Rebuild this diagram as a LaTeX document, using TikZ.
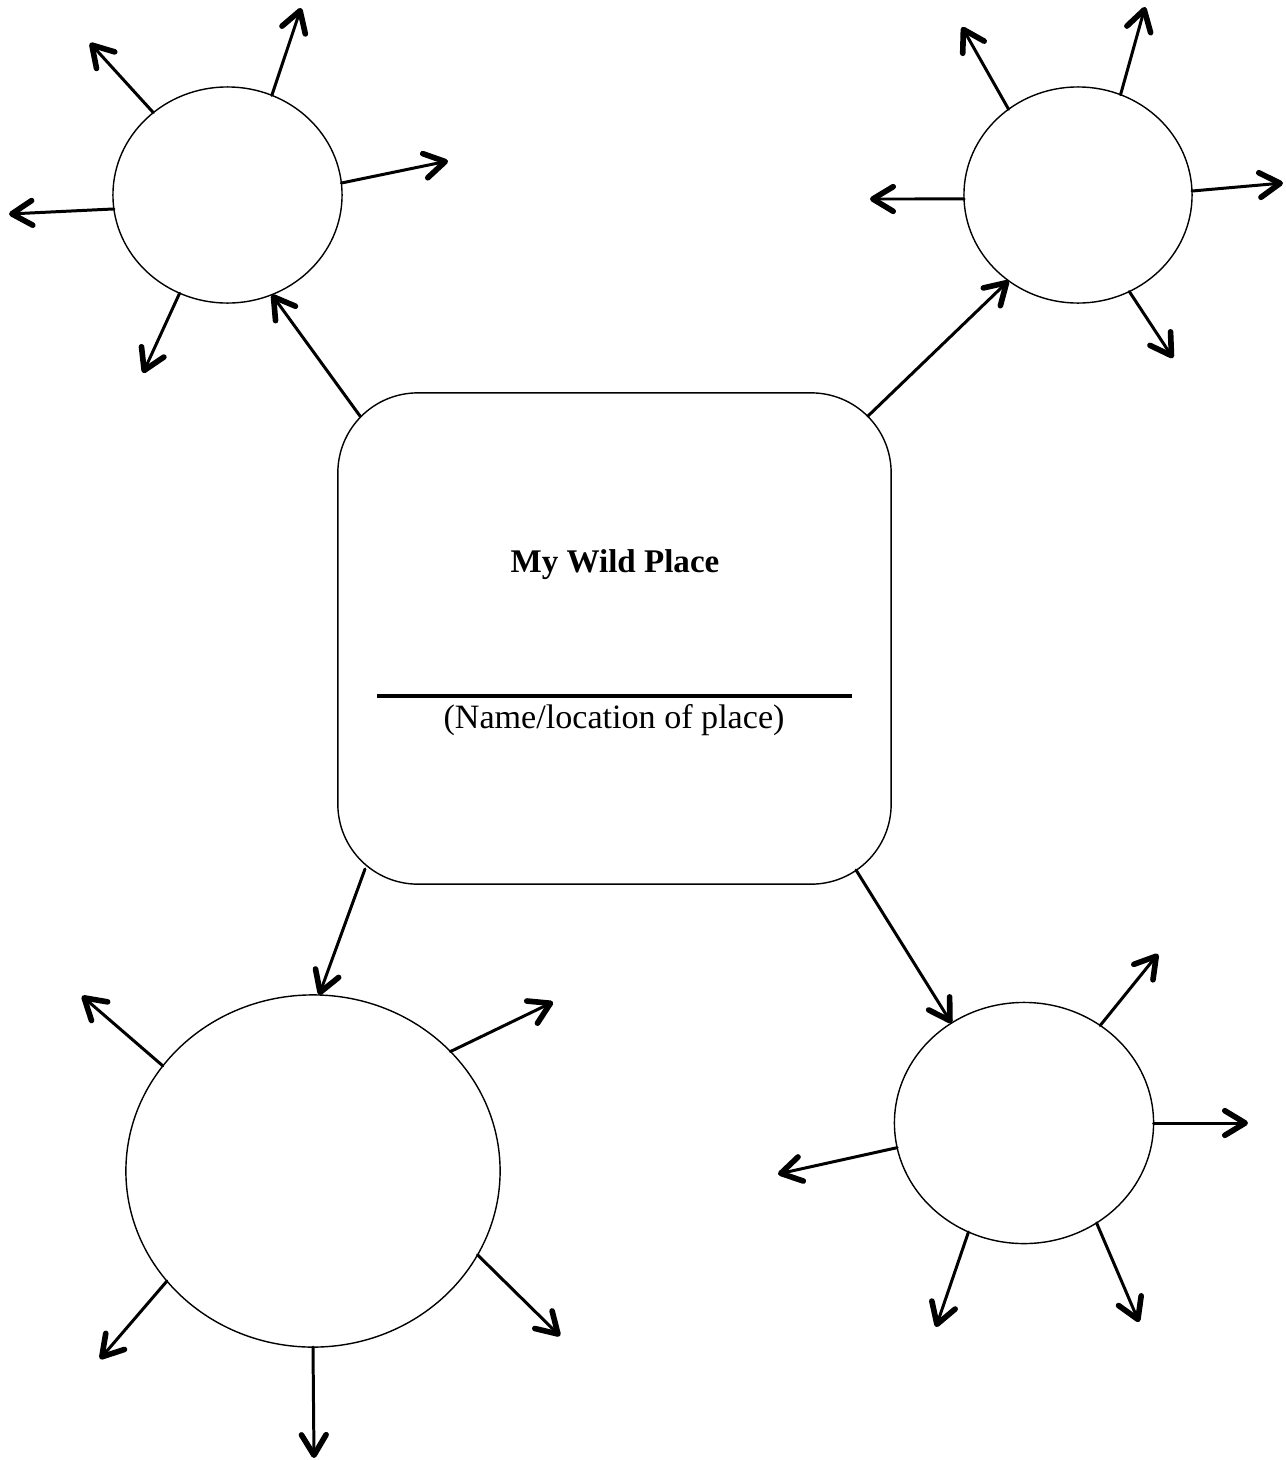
\documentclass[tikz,border=0pt]{standalone}
\usepackage{fontspec}
\setmainfont{Liberation Serif}
\usetikzlibrary{arrows.meta,shapes.geometric}
\begin{document}
\begin{tikzpicture}[x=0.01cm,y=-0.01cm,
  bubble/.style={draw,ellipse,line width=0.4pt,inner sep=0pt,outer sep=0pt},
  ray/.style={line width=0.85pt,line cap=round,-{Straight Barb[length=5.8pt,width=7pt,line width=1.6pt,round]}},
  hub/.style={draw,rectangle,rounded corners=0.8cm,line width=0.4pt,inner sep=0pt,outer sep=0pt,minimum width=5.53cm,minimum height=4.91cm},
  titletext/.style={anchor=base,font=\fontsize{9.4}{11}\selectfont\bfseries,inner sep=0pt},
  subtext/.style={anchor=base,font=\fontsize{9.7}{11}\selectfont,inner sep=0pt}]
\useasboundingbox (0,0) rectangle (1286,1460);

% central box
\node[hub] (c) at (614.5,638.5) {};
\node[titletext] (title) at (615,572) {My Wild Place};
\node[subtext] (sub) at (614,728) {(Name/location of place)};
\draw[line width=1.1pt] (377,696) -- (852,696);

% bubbles
\node[bubble,minimum width=2.29cm,minimum height=2.16cm] (tl) at (227.5,195) {};
\node[bubble,minimum width=2.28cm,minimum height=2.16cm] (tr) at (1078,195) {};
\node[bubble,minimum width=3.74cm,minimum height=3.52cm] (bl) at (313,1171) {};
\node[bubble,minimum width=2.59cm,minimum height=2.41cm] (br) at (1024,1123) {};

% start points on central box
\coordinate (s1) at (360,416);
\coordinate (s2) at (868,416);
\coordinate (s3) at (365,869);
\coordinate (s4) at (856,870);
\draw[ray] (s1) -- (tl.294);
\draw[ray] (s2) -- (tr.231.4);
\draw[ray] (s3) -- (bl.88);
\draw[ray] (s4) -- (br.126.2);

% top-left rays
\coordinate (tl1) at (90,43);
\coordinate (tl2) at (301,8);
\coordinate (tl3) at (448,161);
\coordinate (tl4) at (9,214);
\coordinate (tl5) at (143,373);
\draw[ray] (tl.132.6) -- (tl1);
\draw[ray] (tl.66) -- (tl2);
\draw[ray] (tl.6.4) -- (tl3);
\draw[ray] (tl.187) -- (tl4);
\draw[ray] (tl.244.6) -- (tl5);

% top-right rays
\coordinate (tr1) at (962,27);
\coordinate (tr2) at (1145,7);
\coordinate (tr3) at (1283,183);
\coordinate (tr4) at (870,199);
\coordinate (tr5) at (1173,358);
\draw[ray] (tr.129.5) -- (tr1);
\draw[ray] (tr.67.4) -- (tr2);
\draw[ray] (tr.2.5) -- (tr3);
\draw[ray] (tr.182) -- (tr4);
\draw[ray] (tr.298.6) -- (tr5);

% bottom-left rays
\coordinate (bl1) at (82,996);
\coordinate (bl2) at (553,1002);
\coordinate (bl3) at (100,1359);
\coordinate (bl4) at (314,1458);
\coordinate (bl5) at (560,1336);
\draw[ray] (bl.145.4) -- (bl1);
\draw[ray] (bl.41.7) -- (bl2);
\draw[ray] (bl.217.5) -- (bl3);
\draw[ray] (bl.270) -- (bl4);
\draw[ray] (bl.333) -- (bl5);

% bottom-right rays
\coordinate (br1) at (1158,954);
\coordinate (br2) at (1248,1123);
\coordinate (br3) at (778,1174);
\coordinate (br4) at (936,1327);
\coordinate (br5) at (1139,1322);
\draw[ray] (br.52.4) -- (br1);
\draw[ray] (br.0) -- (br2);
\draw[ray] (br.191.3) -- (br3);
\draw[ray] (br.243.6) -- (br4);
\draw[ray] (br.306.6) -- (br5);
\end{tikzpicture}
\end{document}
